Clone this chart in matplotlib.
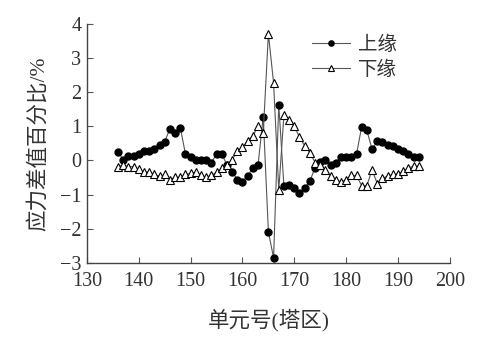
import matplotlib
matplotlib.use("Agg")
import matplotlib.pyplot as plt

x_elem = list(range(136, 195))

upper = [0.26, 0.01, 0.12, 0.12, 0.18, 0.27, 0.27, 0.35, 0.44, 0.55,
         0.93, 0.80, 0.96, 0.19, 0.10, 0.01, 0.01, 0.01, -0.06, 0.18,
         0.18, -0.12, -0.33, -0.56, -0.62, -0.45, -0.22, -0.13, 1.28, -2.09,
         -2.85, 1.63, -0.76, -0.73, -0.80, -0.95, -0.81, -0.61, -0.21, -0.05,
         0.01, -0.13, -0.06, 0.10, 0.11, 0.11, 0.18, 0.99, 0.88, 0.33,
         0.56, 0.54, 0.45, 0.41, 0.35, 0.27, 0.18, 0.11, 0.11]

lower = [-0.18, -0.14, -0.18, -0.18, -0.25, -0.34, -0.34, -0.41, -0.46, -0.41,
         -0.56, -0.49, -0.49, -0.41, -0.38, -0.34, -0.43, -0.49, -0.44, -0.34,
         -0.23, -0.14, 0.02, 0.27, 0.38, 0.57, 0.72, 1.00, 0.80, 3.71,
         2.27, -0.87, 1.33, 1.19, 1.00, 0.68, 0.43, 0.23, -0.06, -0.14,
         -0.27, -0.46, -0.56, -0.64, -0.56, -0.44, -0.44, -0.74, -0.74, -0.27,
         -0.68, -0.52, -0.46, -0.41, -0.39, -0.32, -0.22, -0.17, -0.17]

xticks = [130, 140, 150, 160, 170, 180, 190, 200]
yticks = [-3, -2, -1, 0, 1, 2, 3, 4]
labels = ["上缘", "下缘"]
xlabel = "单元号(塔区)"
ylabel = "应力差值百分比/%"

fam = ['Liberation Serif', 'Noto Sans CJK SC']
plt.rcParams['font.family'] = fam
txt = '#333333'

fig = plt.figure(figsize=(4.78, 3.41), dpi=100)
ax = fig.add_axes([0.182, 0.229, 0.759, 0.701])

ax.plot(x_elem, upper, color='#555555', lw=0.8, marker='o', ms=5,
        mfc='black', mec='black', label=labels[0])
ax.plot(x_elem, lower, color='#555555', lw=0.8, marker='^', ms=6,
        mfc='white', mec='black', mew=0.8, label=labels[1])

ax.set_xlim(130, 200)
ax.set_ylim(-3, 4)
ax.set_xticks(xticks)
ax.set_yticks(yticks)
ax.set_yticklabels([str(v).replace('-', '\u2212') for v in yticks])
ax.tick_params(direction='in', length=4, width=0.8, labelsize=14.5,
               labelcolor=txt, color='#555555')
ax.tick_params(axis='x', pad=6.5)
ax.tick_params(axis='y', pad=4)
for s in ['top', 'right']:
    ax.spines[s].set_visible(False)
for s in ['left', 'bottom']:
    ax.spines[s].set_color('#444444')
    ax.spines[s].set_linewidth(1.0)

ax.set_xlabel(xlabel, fontsize=15.5, color=txt, labelpad=13)
ax.set_ylabel(ylabel, fontsize=15.5, color=txt, labelpad=8)

leg = ax.legend(loc='upper left', bbox_to_anchor=(0.60, 0.985), frameon=False,
                fontsize=14, handlelength=1.95, handletextpad=0.4,
                labelspacing=0.35, borderaxespad=0, markerscale=0.75)
for t in leg.get_texts():
    t.set_color(txt)

fig.savefig('out.png', dpi=100)
